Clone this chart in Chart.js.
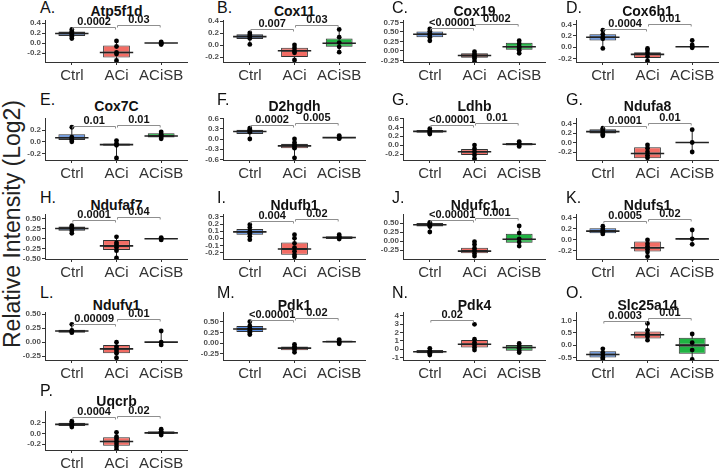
<!DOCTYPE html>
<html>
<head>
<meta charset="utf-8">
<script src="https://cdn.jsdelivr.net/npm/chart.js@4.4.0/dist/chart.umd.min.js"></script>
<style>
    html, body { margin: 0; padding: 0; background: #fff; }
    #page { position: relative; width: 720px; height: 471px; overflow: hidden; font-family: "Liberation Sans", Arial, sans-serif; }
    #page canvas { position: absolute; }
    .letter { position: absolute; font-size: 16px; color: #111; transform: translateY(-50%); white-space: nowrap; }
    .gene { position: absolute; font-size: 14px; font-weight: bold; color: #111; transform: translate(-50%, -50%); white-space: nowrap; }
    #ylabel { position: absolute; left: 12px; top: 224px; font-size: 23px; color: #222; transform: translate(-50%, -50%) rotate(-90deg); white-space: nowrap; }
</style>
</head>
<body>
<div id="page"><div id="ylabel">Relative Intensity (Log2)</div></div>
<script>
"use strict";

// DATA (one row per panel, columns Ctrl / ACi / ACiSB)
const groups = ["Ctrl", "ACi", "ACiSB"];
const letters = ["A.", "B.", "C.", "D.", "E.", "F.", "G.", "G.", "H.", "I.", "J.", "K.", "L.", "M.", "N.", "O.", "P."];
const genes = ["Atp5f1d", "Cox11", "Cox19", "Cox6b1", "Cox7C", "D2hgdh", "Ldhb", "Ndufa8", "Ndufaf7",
    "Ndufb1", "Ndufc1", "Ndufs1", "Ndufv1", "Pdk1", "Pdk4", "Slc25a14", "Uqcrb"];

const yTicks = [
    [0.4, 0.2, 0, -0.2], [0.4, 0.2, 0, -0.2], [0.75, 0.5, 0.25, 0, -0.25], [0.4, 0.2, 0, -0.2],
    [0.2, 0, -0.2], [0.6, 0.3, 0, -0.3, -0.6], [0.6, 0.4, 0.2, 0, -0.2], [0.4, 0.2, 0, -0.2],
    [0.5, 0.25, 0, -0.25, -0.5], [0.3, 0.2, 0.1, 0, -0.1, -0.2], [0.5, 0.25, 0, -0.25], [0.4, 0.2, 0, -0.2],
    [0.5, 0.25, 0, -0.25], [0.5, 0.25, 0, -0.25], [4, 3, 2, 1, 0, -1], [1, 0.5, 0, -0.5],
    [0.2, 0, -0.2]
];
const tickDigits = [1, 1, 2, 1, 1, 1, 1, 1, 2, 1, 2, 1, 2, 2, 0, 1, 1];
const yMin = [-0.38, -0.283, -0.29, -0.26, -0.315, -0.615, -0.335, -0.368, -0.51, -0.29, -0.5, -0.345, -0.32, -0.4, -1.3, -0.6, -0.31];
const yMax = [0.46, 0.417, 0.816, 0.48, 0.41, 0.615, 0.61, 0.516, 0.625, 0.34, 0.75, 0.47, 0.54, 0.73, 4.48, 1.34, 0.42];

const boxLow = [
    [0.14, -0.29, -0.015], [0.1, -0.2, -0.03], [0.36, -0.18, 0.03], [0.12, -0.19, 0.0],
    [0.03, -0.07, 0.075], [0.15, -0.27, 0.02], [0.28, -0.22, -0.01], [0.19, -0.33, -0.01],
    [0.2, -0.28, -0.01], [0.05, -0.23, -0.01], [0.4, -0.34, -0.05], [0.12, -0.21, 0.01],
    [0.17, -0.2, -0.01], [0.26, -0.17, 0.0], [-0.5, 0.2, -0.2], [-0.5, 0.27, -0.35],
    [0.14, -0.23, -0.01]
];
const boxMid = [
    [0.19, -0.19, 0.0], [0.14, -0.095, 0.03], [0.44, -0.12, 0.11], [0.175, -0.125, 0.01],
    [0.07, -0.05, 0.1], [0.22, -0.2, 0.04], [0.31, -0.15, 0.02], [0.23, -0.23, 0.0],
    [0.26, -0.18, 0.0], [0.09, -0.15, 0.01], [0.45, -0.28, 0.05], [0.16, -0.14, 0.02],
    [0.2, -0.12, 0.0], [0.33, -0.12, 0.03], [-0.3, 0.6, 0.2], [-0.38, 0.42, 0.0],
    [0.17, -0.15, 0.01]
];
const boxHigh = [
    [0.23, -0.05, 0.01], [0.18, -0.045, 0.11], [0.51, -0.06, 0.22], [0.23, -0.09, 0.02],
    [0.13, -0.03, 0.145], [0.27, -0.14, 0.06], [0.34, -0.09, 0.05], [0.28, -0.1, 0.01],
    [0.31, -0.03, 0.01], [0.13, -0.06, 0.03], [0.5, -0.19, 0.2], [0.21, -0.03, 0.03],
    [0.22, -0.05, 0.01], [0.4, -0.08, 0.06], [-0.1, 1.1, 0.5], [-0.25, 0.55, 0.3],
    [0.2, -0.07, 0.04]
];
const whiskLow = [
    [0.09, -0.35, -0.03], [0.01, -0.25, -0.12], [0.27, -0.28, -0.06], [-0.02, -0.24, -0.01],
    [0.0, -0.28, 0.05], [0.0, -0.55, 0.01], [0.25, -0.3, -0.03], [0.14, -0.33, -0.2],
    [0.14, -0.48, -0.03], [-0.02, -0.26, -0.02], [0.25, -0.42, -0.14], [0.11, -0.3, -0.08],
    [0.16, -0.28, -0.05], [0.2, -0.22, -0.02], [-0.7, -0.1, -0.4], [-0.55, 0.2, -0.58],
    [0.12, -0.3, -0.03]
];
const whiskHigh = [
    [0.27, 0.04, 0.02], [0.2, 0.0, 0.26], [0.58, -0.02, 0.27], [0.3, -0.02, 0.12],
    [0.25, 0.02, 0.17], [0.32, 0.0, 0.1], [0.37, 0.0, 0.08], [0.3, -0.05, 0.27],
    [0.33, 0.05, 0.03], [0.19, 0.05, 0.05], [0.52, -0.02, 0.42], [0.25, 0.0, 0.18],
    [0.32, 0.0, 0.2], [0.5, -0.03, 0.08], [0.1, 1.3, 0.7], [-0.15, 0.88, 0.45],
    [0.23, 0.02, 0.08]
];
const dots = [
    [[0.27, 0.23, 0.2, 0.17, 0.13, 0.09], [0.04, -0.07, -0.19, -0.22, -0.35], [0.02, 0.0, -0.01, -0.03]],
    [[0.2, 0.17, 0.14, 0.11, 0.01], [0.0, -0.05, -0.1, -0.13, -0.25], [0.26, 0.13, 0.04, -0.03, -0.12]],
    [[0.58, 0.52, 0.46, 0.42, 0.36, 0.27], [-0.02, -0.08, -0.12, -0.15, -0.2, -0.27], [0.27, 0.19, 0.12, 0.08, 0.02, -0.06]],
    [[0.3, 0.23, 0.175, 0.15, -0.02], [-0.02, -0.05, -0.1, -0.165, -0.24], [0.12, 0.04, 0.01, -0.01]],
    [[0.25, 0.08, 0.05, 0.03, 0.0], [0.02, -0.03, -0.06, -0.28], [0.17, 0.13, 0.1, 0.08, 0.05]],
    [[0.32, 0.28, 0.25, 0.2, 0.0], [0.0, -0.1, -0.17, -0.22, -0.27, -0.55], [0.1, 0.06, 0.03, 0.01]],
    [[0.37, 0.33, 0.3, 0.27, 0.25], [0.0, -0.08, -0.15, -0.22, -0.3], [0.08, 0.04, 0.01, -0.03]],
    [[0.3, 0.27, 0.24, 0.2, 0.17, 0.14], [-0.05, -0.12, -0.2, -0.27, -0.32], [0.27, 0.0, -0.2]],
    [[0.33, 0.3, 0.26, 0.2, 0.14], [0.05, -0.1, -0.15, -0.22, -0.3, -0.48], [0.03, 0.0, -0.03]],
    [[0.19, 0.15, 0.1, 0.07, 0.03, -0.02], [0.05, 0.0, -0.07, -0.13, -0.18, -0.23, -0.26], [0.05, 0.03, 0.01, -0.01]],
    [[0.52, 0.47, 0.44, 0.4, 0.25], [-0.02, -0.1, -0.2, -0.27, -0.35, -0.42], [0.42, 0.22, 0.06, -0.03, -0.14]],
    [[0.25, 0.2, 0.17, 0.14, 0.11], [0.0, -0.07, -0.12, -0.17, -0.22, -0.3], [0.18, 0.02, -0.08]],
    [[0.32, 0.21, 0.19, 0.17], [0.0, -0.08, -0.12, -0.16, -0.2, -0.28], [0.2, 0.0, -0.05]],
    [[0.5, 0.4, 0.35, 0.3, 0.25, 0.2], [-0.03, -0.08, -0.12, -0.16, -0.22], [0.08, 0.04, 0.01, -0.02]],
    [[0.1, -0.2, -0.35, -0.5, -0.7], [3.0, 1.2, 0.8, 0.5, 0.2, -0.1], [0.7, 0.4, 0.1, -0.2, -0.4]],
    [[-0.15, -0.3, -0.4, -0.5, -0.55], [0.88, 0.6, 0.45, 0.35, 0.2], [0.45, 0.1, -0.2, -0.58]],
    [[0.23, 0.2, 0.17, 0.15, 0.12], [0.02, -0.06, -0.1, -0.15, -0.2, -0.25, -0.3], [0.08, 0.04, 0.01, -0.03]]
];
// p-values: first bracket Ctrl-ACi, second ACi-ACiSB
const pValues = [
    ["0.0002", "0.03"], ["0.007", "0.03"], ["<0.00001", "0.002"], ["0.0004", "0.01"],
    ["0.01", "0.01"], ["0.0002", "0.005"], ["<0.00001", "0.01"], ["0.0001", "0.01"],
    ["0.0001", "0.04"], ["0.004", "0.02"], ["<0.00001", "0.001"], ["0.0005", "0.02"],
    ["0.00009", "0.01"], ["<0.00001", "0.02"], ["0.02"], ["0.0003", "0.01"],
    ["0.0004", "0.02"]
];
const pHeights = [
    [0.33, 0.37], [0.27, 0.34], [0.6, 0.71], [0.33, 0.41],
    [0.27, 0.29], [0.41, 0.48], [0.45, 0.49], [0.35, 0.42],
    [0.48, 0.55], [0.24, 0.27], [0.58, 0.64], [0.35, 0.38],
    [0.33, 0.41], [0.55, 0.58], [3.5], [0.97, 1.09],
    [0.3, 0.33]
];

// LAYOUT
const COL_X = [45, 223, 403, 576];
const LETTER_X = [40, 217, 392, 566];
const ROW_TOP = [20, 118, 214, 312, 411];
const ROW_BOTTOM = [62, 160, 259, 360, 450];
const TITLE_Y = [11, 106, 205, 305, 401];
const LETTER_Y = [8, 100, 198, 293, 391];
const PLOT_W = 143;
const AXIS_W = 42;
const LABEL_H = 24;
const PAD_TOP = 8;
const BOX_HALF = 16.7;
const FILLS = ["#5a8ee2", "#f26c64", "#20b443"];
const INK = "#333";

function bracketPlugin(i) {
    return {
        id: "brackets",
        afterDatasetsDraw(chart) {
            const { ctx } = chart;
            const x = chart.scales.x;
            const y = chart.scales.y;
            ctx.save();
            pValues[i].forEach((label, k) => {
                const x1 = x.getPixelForValue(k + 1) + 1;
                const x2 = x.getPixelForValue(k + 2) - 1;
                const py = Math.round(y.getPixelForValue(pHeights[i][k])) + 0.5;
                ctx.strokeStyle = "#8f8f8f";
                ctx.lineWidth = 1;
                ctx.beginPath();
                ctx.moveTo(x1, py + 2);
                ctx.lineTo(x1, py);
                ctx.lineTo(x2, py);
                ctx.lineTo(x2, py + 2);
                ctx.stroke();
                ctx.fillStyle = "#111";
                ctx.font = "bold 11px 'Liberation Sans'";
                ctx.textAlign = "center";
                ctx.textBaseline = "bottom";
                ctx.fillText(label, (x1 + x2) / 2, py);
            });
            ctx.restore();
        }
    };
}

function floating(i, lows, highs) {
    return groups.map((g, k) => ({ x: k + 1, y: [lows[i][k], highs[i][k]] }));
}

function drawPanel(i) {
    const page = document.getElementById("page");
    const row = Math.floor(i / 4);
    const col = i % 4;

    const letter = document.createElement("div");
    letter.className = "letter";
    letter.textContent = letters[i];
    letter.style.left = LETTER_X[col] + "px";
    letter.style.top = LETTER_Y[row] + "px";
    page.appendChild(letter);

    const gene = document.createElement("div");
    gene.className = "gene";
    gene.textContent = genes[i];
    gene.style.left = (COL_X[col] + PLOT_W / 2) + "px";
    gene.style.top = TITLE_Y[row] + "px";
    page.appendChild(gene);

    const canvas = document.createElement("canvas");
    const w = AXIS_W + PLOT_W;
    const h = PAD_TOP + ROW_BOTTOM[row] - ROW_TOP[row] + LABEL_H;
    canvas.width = w;
    canvas.height = h;
    canvas.style.left = (COL_X[col] - AXIS_W) + "px";
    canvas.style.top = (ROW_TOP[row] - PAD_TOP) + "px";
    canvas.style.width = w + "px";
    canvas.style.height = h + "px";
    page.appendChild(canvas);

    const points = [];
    dots[i].forEach((vals, k) => vals.forEach((v) => points.push({ x: k + 1, y: v })));
    const medians = groups.map((g, k) => ({ x: k + 1, y: boxMid[i][k] }));

    const boxStyle = {
        type: "bar",
        backgroundColor: FILLS,
        borderColor: INK,
        borderWidth: 1,
        borderSkipped: false,
        barPercentage: 0.75,
        grouped: false,
        order: 3
    };

    new Chart(canvas, {
        type: "bar",
        data: {
            datasets: [
                { type: "bar", data: floating(i, whiskLow, whiskHigh), backgroundColor: "#222", maxBarThickness: 1, grouped: false, order: 4 },
                { ...boxStyle, data: floating(i, boxLow, boxMid) },
                { ...boxStyle, data: floating(i, boxMid, boxHigh) },
                { type: "scatter", data: medians, pointStyle: "line", pointRadius: BOX_HALF, pointBorderWidth: 1.6, pointBorderColor: "#222", order: 2 },
                { type: "scatter", data: points, pointRadius: 2.4, pointBackgroundColor: "#000", pointBorderWidth: 0, order: 1 }
            ]
        },
        options: {
            responsive: false,
            devicePixelRatio: 1,
            animation: false,
            events: [],
            layout: { autoPadding: false, padding: { top: PAD_TOP, left: 0, right: 0, bottom: 0 } },
            plugins: { legend: { display: false }, tooltip: { enabled: false } },
            scales: {
                x: {
                    type: "linear",
                    min: 0.4,
                    max: 3.6,
                    offset: false,
                    afterBuildTicks: (s) => { s.ticks = groups.map((g, k) => ({ value: k + 1 })); },
                    afterFit: (s) => { s.height = LABEL_H; s.paddingLeft = 0; s.paddingRight = 0; },
                    ticks: {
                        autoSkip: false,
                        maxRotation: 0,
                        padding: 2,
                        color: "#333",
                        font: { family: "'Liberation Sans'", size: 15 },
                        callback: (v) => groups[v - 1]
                    },
                    grid: { display: true, drawOnChartArea: false, offset: false, tickLength: 3, color: INK },
                    border: { display: true, color: INK, width: 1 }
                },
                y: {
                    min: yMin[i],
                    max: yMax[i],
                    afterBuildTicks: (s) => { s.ticks = yTicks[i].map((v) => ({ value: v })); },
                    afterFit: (s) => { s.width = AXIS_W; s.paddingTop = 0; s.paddingBottom = 0; },
                    ticks: {
                        autoSkip: false,
                        padding: 1,
                        color: "#505050",
                        font: { family: "'Liberation Sans'", size: 8, weight: "bold" },
                        callback: (v) => Number(v).toFixed(tickDigits[i])
                    },
                    grid: { display: true, drawOnChartArea: false, tickLength: 3, color: INK },
                    border: { display: true, color: INK, width: 1 }
                }
            }
        },
        plugins: [bracketPlugin(i)]
    });
}

genes.forEach((g, i) => drawPanel(i));
</script>
</body>
</html>
